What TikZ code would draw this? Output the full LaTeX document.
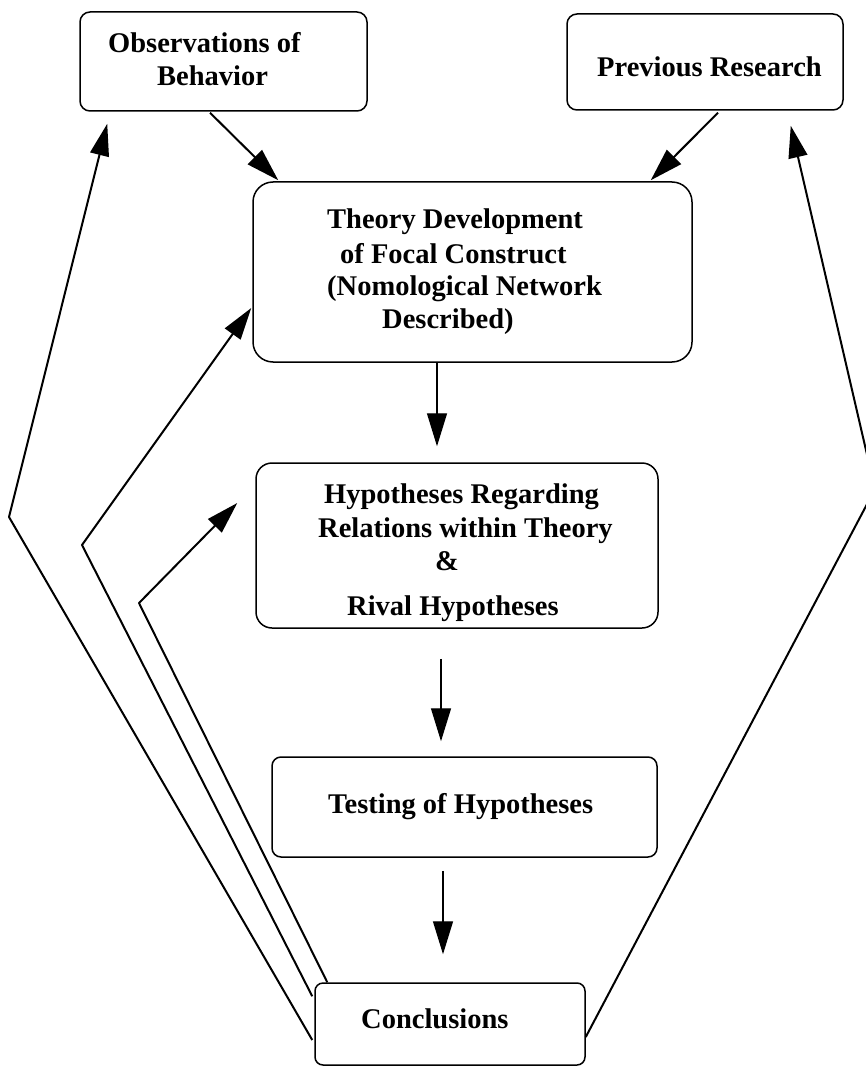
\documentclass[tikz,border=0pt]{standalone}
\usepackage{fontspec}
\setmainfont{Liberation Serif}
\usetikzlibrary{arrows.meta,calc}
\begin{document}
\begin{tikzpicture}[x=1pt,y=-1pt,
  box/.style={draw, line width=1.5pt, rounded corners=#1, inner sep=0pt},
  box/.default=10pt,
  lbl/.style={anchor=base west, inner sep=0pt, font=\fontsize{28.5}{33}\selectfont\bfseries},
  flow/.style={line width=1.4pt, -{Triangle[length=33pt,width=20pt]}},
  back/.style={line width=2pt, line join=round, -{Triangle[length=32pt,width=19pt]}}]

\useasboundingbox (0,0) rectangle (866,1067);
\fill[white] (0,0) rectangle (866,1067);
\clip (0,0) rectangle (866,1067);

% boxes
\node[box=10pt, minimum width=287pt, minimum height=99pt]  (obs)    at (223.5,61.5)  {};
\node[box=10pt, minimum width=276pt, minimum height=96pt]  (prev)   at (705,62)      {};
\node[box=20pt, minimum width=439pt, minimum height=180pt] (theory) at (472.5,272)   {};
\node[box=16pt, minimum width=402pt, minimum height=165pt] (hyp)    at (457,545.5)   {};
\node[box=9pt,  minimum width=385pt, minimum height=100pt] (test)   at (464.5,807)   {};
\node[box=8pt,  minimum width=270pt, minimum height=82pt]  (concl)  at (450,1024)    {};

% labels
\node[lbl] (obsA) at (108,53) {Observations of};
\node[lbl] (obsB) at (157,86) {Behavior};
\node[lbl] (prevA) at (597,77) {Previous Research};
\node[lbl] (thA) at (327,229) {Theory Development};
\node[lbl] (thB) at (340,263) {of Focal Construct};
\node[lbl] (thC) at (327,295) {(Nomological Network};
\node[lbl] (thD) at (382,328) {Described)};
\node[lbl] (hyA) at (324,503) {Hypotheses Regarding};
\node[lbl] (hyB) at (318,537) {Relations within Theory};
\node[lbl, anchor=base] (hyC) at (447,570) {\&};
\node[lbl] (hyD) at (347,615) {Rival Hypotheses};
\node[lbl] (teA) at (328,813) {Testing of Hypotheses};
\node[lbl] (coA) at (361,1028) {Conclusions};

% forward flow
\draw[flow, line width=2pt] ($(obs.south)+(-13.5,1)$) -- ($(theory.north west)+(26,-1)$);
\draw[flow, line width=2pt] ($(prev.south)+(13,2)$) -- ($(theory.north east)+(-42,-1)$);
\draw[flow] ($(theory.south)+(-35.5,0)$) -- ($(hyp.north)+(-20,-16)$);
\draw[flow] ($(hyp.south)+(-16,30)$) -- ($(test.north)+(-23.5,-15)$);
\draw[flow] ($(test.south)+(-21.5,13)$) -- ($(concl.north)+(-7,-28)$);

% feedback from conclusions
\coordinate (vOuter) at (9,517);
\coordinate (vMid) at (82,545);
\coordinate (vIn) at (139,603);
\coordinate (vRight) at (875,489);
\draw[back] ($(concl.west)+(-2,16)$) -- (vOuter) -- ($(obs.south west)+(28,12)$);
\draw[back] ($(concl.north west)+(-2,14)$) -- (vMid) -- ($(theory.west)+(-1,36)$);
\draw[back] ($(concl.north west)+(13,0)$) -- (vIn) -- ($(hyp.west)+(-18,-42.5)$);
\draw[back] ($(concl.east)+(0,13)$) -- (vRight) -- ($(prev.south east)+(-53,15)$);
\end{tikzpicture}
\end{document}
